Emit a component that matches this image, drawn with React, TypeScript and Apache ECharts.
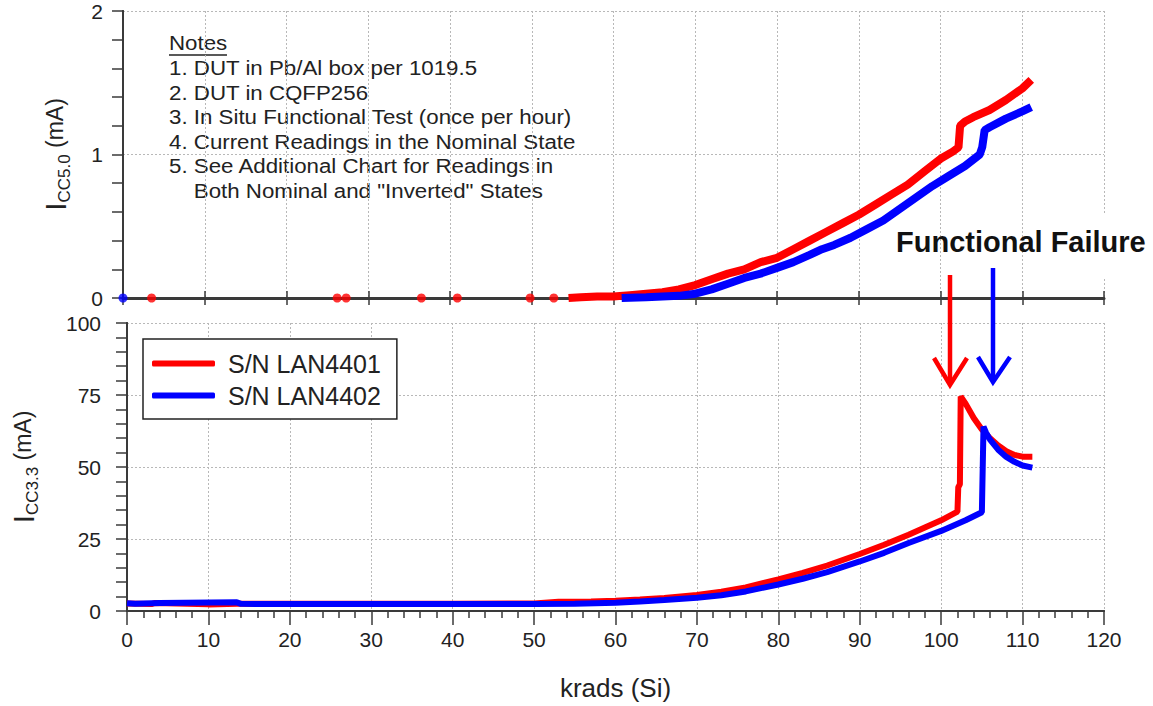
import React, { useEffect, useRef } from "react";
import * as echarts from "echarts";

const FONT = "'Liberation Sans', Arial, sans-serif";

const xTicks = { min: 0, max: 120, interval: 10 };
const yTopTicks = { min: 0, max: 2, interval: 1 };
const yBottomTicks = { min: 0, max: 100, interval: 25 };

const legendNames = ["S/N LAN4401", "S/N LAN4402"];

const notes = [
  "1. DUT in Pb/Al box per 1019.5",
  "2. DUT in CQFP256",
  "3. In Situ Functional Test (once per hour)",
  "4. Current Readings in the Nominal State",
  "5. See Additional Chart for Readings in",
  "    Both Nominal and \"Inverted\" States",
];

// Top panel: ICC5.0 (mA)
const red5Sparse: [number, number][] = [
  [3.5, 0], [26.2, 0], [27.3, 0], [36.5, 0], [40.9, 0], [49.8, 0], [52.7, 0],
];
const blue5Sparse: [number, number][] = [[0, 0]];
const red5: [number, number][] = [
  [54.5, 0], [56, 0.005], [58, 0.01], [60, 0.01], [62, 0.02], [64, 0.03], [66, 0.04],
  [68, 0.06], [70, 0.09], [72, 0.13], [74, 0.17], [76, 0.2], [78, 0.25], [80, 0.28],
  [82, 0.34], [84, 0.4], [86, 0.46], [88, 0.52], [90, 0.58], [92, 0.65], [94, 0.72],
  [96, 0.79], [98, 0.88], [100, 0.97], [101.5, 1.02], [102.2, 1.05], [102.4, 1.2],
  [103, 1.23], [104, 1.26], [106, 1.31], [108, 1.38], [110, 1.46], [111.1, 1.52],
];
const blue5: [number, number][] = [
  [61, 0], [64, 0.005], [66, 0.01], [68, 0.015], [70, 0.03], [72, 0.06], [74, 0.1],
  [76, 0.14], [78, 0.17], [80, 0.21], [82, 0.25], [84, 0.3], [85.5, 0.34], [87, 0.37],
  [89, 0.42], [91, 0.48], [93, 0.54], [95, 0.62], [97, 0.7], [99, 0.78], [101, 0.85],
  [103, 0.92], [104.8, 1.0], [105.1, 1.05], [105.4, 1.17], [106, 1.19], [108, 1.25],
  [110, 1.3], [111.1, 1.33],
];

// Bottom panel: ICC3.3 (mA)
const red33: [number, number][] = [
  [0, 2.6], [3, 2.4], [3.5, 2.8], [10, 2.3], [13.5, 2.5], [20, 2.5], [30, 2.5], [40, 2.5],
  [50, 2.6], [53, 3.2], [57, 3.3], [60, 3.6], [63, 4.0], [66, 4.5], [70, 5.6], [73, 6.7],
  [76, 8.2], [80, 11.0], [83, 13.2], [86, 15.8], [90, 19.8], [93, 23.0], [96, 26.5],
  [98, 29.0], [100, 31.5], [102, 34.5], [102.1, 43], [102.3, 44], [102.4, 74.5],
  [103, 72], [104, 67], [105, 63], [106, 60], [107, 57.5], [108, 55.5], [109, 54.2],
  [110, 53.6], [111.2, 53.6],
];
const blue33: [number, number][] = [
  [0, 2.7], [1, 2.5], [4, 2.8], [13.5, 3.0], [14, 2.5], [20, 2.4], [30, 2.4], [40, 2.4],
  [50, 2.4], [55, 2.5], [60, 2.9], [63, 3.3], [66, 3.8], [70, 4.6], [73, 5.5], [76, 6.8],
  [80, 9.2], [83, 11.2], [86, 13.5], [90, 17.2], [93, 20.2], [96, 23.6], [100, 27.8],
  [103, 31.5], [105, 34.3], [105.2, 64], [105.5, 62], [106, 59.5], [107, 56], [108, 53.5],
  [109, 51.8], [110, 50.5], [111.2, 49.8],
];

const RED = "#ff0000";
const BLUE = "#0000ff";
const AXIS = "#3a3a3a";
const GRID = "#b8b8b8";

const yName = (sub: string) => `{i|I}{s|${sub}}{n| (mA)}`;

export default function App() {
  const ref = useRef<HTMLDivElement>(null);
  useEffect(() => {
    if (!ref.current) return;
    const chart = echarts.init(ref.current, null, { renderer: "svg" });
    const richName = {
      i: { fontSize: 30, fontFamily: FONT, color: "#222", lineHeight: 36, verticalAlign: "middle" },
      s: { fontSize: 17, fontFamily: FONT, color: "#222", lineHeight: 17, verticalAlign: "bottom" },
      n: { fontSize: 23, fontFamily: FONT, color: "#222", lineHeight: 36, verticalAlign: "middle" },
    };
    const dotted = { color: GRID, type: [2, 2] as any, width: 1 };
    const axisLine = { show: true, lineStyle: { color: AXIS, width: 2 } };
    const label = { fontSize: 21, fontFamily: FONT, color: "#222" };

    const noteLines = notes.map((t, i) => ({
      type: "text",
      x: 0,
      y: 58 + i * 24.5,
      style: { text: t, fontSize: 20, fontFamily: FONT, fill: "#222" },
    }));

    chart.setOption({
      animation: false,
      backgroundColor: "#ffffff",
      textStyle: { fontFamily: FONT },
      grid: [
        { left: 123, right: 49, top: 11, height: 287 },
        { left: 123, right: 49, top: 323, height: 288 },
      ],
      xAxis: [
        {
          gridIndex: 0, type: "value", position: "bottom", ...xTicks,
          axisLine, axisLabel: { show: false },
          axisTick: { show: true, inside: true, length: 7, lineStyle: { color: AXIS, width: 1.5 } },
          splitLine: { show: true, lineStyle: dotted },
        },
        {
          gridIndex: 0, type: "value", position: "top", ...xTicks,
          axisLine: { show: true, lineStyle: { color: AXIS, width: 3 } }, axisLabel: { show: false },
          axisTick: { show: true, inside: true, length: 7, lineStyle: { color: AXIS, width: 1.5 } },
          splitLine: { show: false },
        },
        {
          gridIndex: 1, type: "value", position: "bottom", ...xTicks,
          axisLine, axisLabel: { ...label, margin: 18 },
          axisTick: { show: true, length: 14, lineStyle: { color: AXIS, width: 1.5 } },
          minorTick: { show: true, splitNumber: 5, length: 7, lineStyle: { color: AXIS, width: 1.5 } },
          splitLine: { show: true, lineStyle: dotted },
          name: "krads (Si)", nameLocation: "middle", nameGap: 64,
          nameTextStyle: { fontSize: 26, fontFamily: FONT, color: "#222" },
        },
        {
          gridIndex: 1, type: "value", position: "top", ...xTicks,
          axisLine, axisLabel: { show: false }, axisTick: { show: false }, splitLine: { show: false },
        },
      ],
      yAxis: [
        {
          gridIndex: 0, type: "value", position: "left", ...yTopTicks,
          axisLine, axisLabel: { ...label, margin: 20 },
          axisTick: { show: true, length: 11, lineStyle: { color: AXIS, width: 1.5 } },
          minorTick: { show: true, splitNumber: 5, length: 11, lineStyle: { color: AXIS, width: 1.5 } },
          splitLine: { show: true, lineStyle: dotted },
          name: yName("CC5.0"), nameLocation: "middle", nameGap: 50,
          nameTextStyle: { rich: richName },
        },
        {
          gridIndex: 0, type: "value", position: "right", ...yTopTicks,
          axisLine, axisLabel: { show: false }, axisTick: { show: false }, splitLine: { show: false },
        },
        {
          gridIndex: 1, type: "value", position: "left", ...yBottomTicks,
          axisLine, axisLabel: { ...label, margin: 26 },
          axisTick: { show: true, length: 11, lineStyle: { color: AXIS, width: 1.5 } },
          minorTick: { show: true, splitNumber: 5, length: 11, lineStyle: { color: AXIS, width: 1.5 } },
          splitLine: { show: true, lineStyle: dotted },
          name: yName("CC3.3"), nameLocation: "middle", nameGap: 86,
          nameTextStyle: { rich: richName },
        },
        {
          gridIndex: 1, type: "value", position: "right", ...yBottomTicks,
          axisLine, axisLabel: { show: false }, axisTick: { show: false }, splitLine: { show: false },
        },
      ],
      legend: {
        data: legendNames,
        orient: "vertical",
        left: 143,
        top: 339,
        backgroundColor: "#ffffff",
        borderColor: "#222",
        borderWidth: 1.5,
        borderRadius: 0,
        padding: [12, 16, 11, 9],
        itemWidth: 63,
        itemHeight: 6,
        itemGap: 7,
        icon: "roundRect",
        selectedMode: false,
        textStyle: { fontSize: 25, lineHeight: 25, fontFamily: FONT, color: "#222", padding: [0, 0, 0, 8] },
      },
      series: [
        {
          name: "4401 ICC5.0 sparse", type: "scatter", xAxisIndex: 0, yAxisIndex: 0,
          data: red5Sparse, symbolSize: 9, itemStyle: { color: RED }, clip: false,
        },
        {
          name: "4401 ICC5.0", type: "line", xAxisIndex: 0, yAxisIndex: 0, data: red5,
          showSymbol: false, lineStyle: { color: RED, width: 8 }, itemStyle: { color: RED }, clip: false,
        },
        {
          name: "4402 ICC5.0 sparse", type: "scatter", xAxisIndex: 0, yAxisIndex: 0,
          data: blue5Sparse, symbolSize: 9, itemStyle: { color: BLUE }, clip: false,
        },
        {
          name: "4402 ICC5.0", type: "line", xAxisIndex: 0, yAxisIndex: 0, data: blue5,
          showSymbol: false, lineStyle: { color: BLUE, width: 8 }, itemStyle: { color: BLUE }, clip: false,
        },
        {
          name: legendNames[0], type: "line", xAxisIndex: 2, yAxisIndex: 2, data: red33,
          showSymbol: false, lineStyle: { color: RED, width: 6 }, itemStyle: { color: RED }, clip: false,
        },
        {
          name: legendNames[1], type: "line", xAxisIndex: 2, yAxisIndex: 2, data: blue33,
          showSymbol: false, lineStyle: { color: BLUE, width: 6 }, itemStyle: { color: BLUE }, clip: false,
        },
      ],
      graphic: [
        {
          type: "group", x: 169, y: 0, scaleX: 1.115, z: 100,
          children: [
            {
              type: "text", x: 0, y: 33,
              style: { text: "Notes", fontSize: 20, fontFamily: FONT, fill: "#222" },
            },
            {
              type: "line",
              shape: { x1: 0, y1: 55, x2: 52, y2: 55 },
              style: { stroke: "#222", lineWidth: 1.5 },
            },
            ...noteLines,
          ],
        },
        {
          type: "rect", z: 90,
          shape: { x: 1098, y: 215, width: 12, height: 62 },
          style: { fill: "#ffffff" },
        },
        {
          type: "text", left: 896, top: 227, z: 100,
          style: { text: "Functional Failure", fontSize: 29, fontWeight: "bold", fontFamily: FONT, fill: "#111" },
        },
        {
          type: "line", z: 100,
          shape: { x1: 950, y1: 275, x2: 950, y2: 384 },
          style: { stroke: RED, lineWidth: 4.5 },
        },
        {
          type: "polyline", z: 100,
          shape: { points: [[934, 358], [950, 385], [967, 358]] },
          style: { stroke: RED, lineWidth: 4.5, fill: null },
        },
        {
          type: "line", z: 100,
          shape: { x1: 993, y1: 268, x2: 993, y2: 381 },
          style: { stroke: BLUE, lineWidth: 4.5 },
        },
        {
          type: "polyline", z: 100,
          shape: { points: [[978, 357], [993, 382], [1010, 357]] },
          style: { stroke: BLUE, lineWidth: 4.5, fill: null },
        },
      ],
    });
    return () => chart.dispose();
  }, []);
  return (
    <div
      ref={ref}
      style={{ position: "fixed", left: 0, top: 0, width: 1153, height: 706, background: "#fff" }}
    />
  );
}
